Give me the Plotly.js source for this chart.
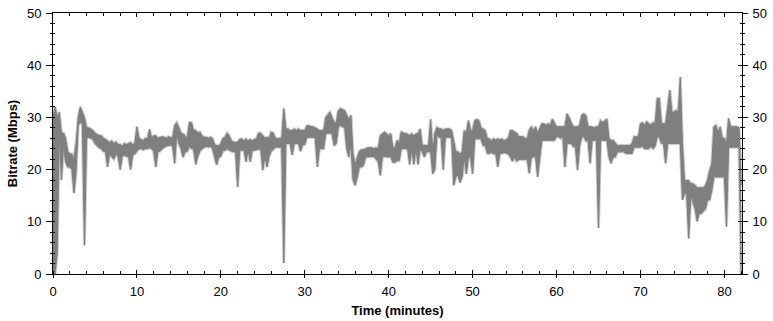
<!DOCTYPE html>
<html>
<head>
<meta charset="utf-8">
<script src="https://cdn.plot.ly/plotly-3.0.1.min.js"></script>
<style>html,body{margin:0;padding:0;background:#fff;}#chart{width:773px;height:321px;}</style>
</head>
<body>
<div id="chart"></div>
<script>
// Sampling: first bin at 0 min, one bin every 0.25 min
const startMinute = 0;
const stepMinutes = 0.25;

// Per-bin maximum bitrate (Mbps), one row per minute (4 bins)
const bitrateHigh = [
  30, 32, 30, 31,        // 0
  27, 27, 26, 23.5,      // 1
  23, 23, 22, 25,        // 2
  30, 32, 31, 30,        // 3
  28, 28, 27.8, 27.5,    // 4
  27, 26.8, 26.5, 26.5,  // 5
  26, 25.8, 25.5, 25.2,  // 6
  25.5, 25, 25.3, 24.8,  // 7
  24.8, 24.5, 25, 24.8,  // 8
  25, 25.2, 24.8, 25,    // 9
  28.2, 26, 25.8, 25.5,  // 10
  26, 25.8, 27.7, 26,    // 11
  26.5, 26.5, 26, 26.2,  // 12
  26.3, 26.2, 26, 26.3,  // 13
  26.2, 26, 28.5, 29,    // 14
  28, 27, 26.8, 26.5,    // 15
  26, 29, 29, 27.5,      // 16
  27.5, 27, 27.2, 26.5,  // 17
  26.2, 26.2, 26, 26.2,  // 18
  26, 24.8, 24.6, 24.5,  // 19
  25, 26, 26.2, 27,      // 20
  26.5, 25.5, 25.3, 25.2,// 21
  25.3, 25.8, 25.9, 25.5,// 22
  25.9, 25.5, 25.8, 25.5,// 23
  25.8, 25.9, 27, 27,    // 24
  26.5, 26, 26.2, 26,    // 25
  27.2, 27, 26, 25.9,    // 26
  26, 25.9, 31.7, 27.8,  // 27
  27.8, 27.5, 27.5, 27.8,// 28
  27.5, 27.8, 27.5, 27.5,// 29
  27.5, 28.4, 28.4, 28.2,// 30
  28.2, 28, 27.8, 27.5,  // 31
  27.5, 27.5, 30, 30.5,  // 32
  31, 30, 29, 29,        // 33
  31.3, 31.7, 31.5, 31.3,// 34
  30.5, 29.5, 30.4, 23,  // 35
  21, 22.5, 23.5, 23.8,  // 36
  23.8, 24, 24.2, 24.2,  // 37
  24.2, 24, 24.2, 24,    // 38
  26.5, 26.9, 27.2, 26.9,// 39
  26.5, 26.9, 24.2, 24.2,// 40
  25.6, 25, 27.2, 27,    // 41
  26.9, 26.8, 26.5, 26.9,// 42
  26.5, 26.8, 26.9, 27.8,// 43
  24.6, 24.6, 24.6, 24.6,// 44
  29.6, 23.5, 27, 28.1,  // 45
  27.8, 27.8, 27.5, 27.8,// 46
  27.8, 27.8, 27.5, 25,  // 47
  23.4, 23.4, 23, 23.4,  // 48
  27.5, 27, 29.4, 27.5,  // 49
  27.5, 29.4, 29.6, 29.4,// 50
  28, 27.8, 27.5, 25.9,  // 51
  25.9, 25.5, 25.9, 25.7,// 52
  25.9, 25.7, 25.9, 25.5,// 53
  25.8, 26, 27.5, 27.5,  // 54
  27.2, 27, 26.3, 26.3,  // 55
  26.3, 26, 25.8, 27.6,  // 56
  28.2, 27.5, 28.2, 27,  // 57
  28, 28.8, 28.8, 28.5,  // 58
  28.8, 28.5, 29.7, 29,  // 59
  28.2, 28.2, 28.2, 28.2,// 60
  28.2, 30.7, 30, 29,    // 61
  28.2, 28.2, 28.2, 28.5,// 62
  30.4, 30.7, 30.4, 28.2,// 63
  28.2, 28.2, 28, 28.2,  // 64
  28.2, 29.4, 29, 29.4,  // 65
  29.7, 26, 25.6, 25.6,  // 66
  25, 24.6, 24.6, 24.6,  // 67
  24.6, 24.6, 24.6, 24.6,// 68
  25, 26.3, 26.3, 26.3,  // 69
  28.8, 29, 28.5, 29.2,  // 70
  28.8, 28.5, 29, 28.8,  // 71
  33.6, 33.6, 28.8, 28.8,// 72
  28.8, 32, 35.2, 31,    // 73
  31, 31.4, 31, 37.7,    // 74
  25, 17.9, 17.9, 17.9,  // 75
  17.3, 17.3, 17, 16.5,  // 76
  16.5, 16.5, 16.5, 17,  // 77
  18, 19.9, 21, 28.2,    // 78
  28.5, 27, 28.2, 26,    // 79
  26, 25, 29.8, 28.2,    // 80
  28.2, 28.2, 28.2, 28,  // 81
  17                     // 82
];

// Per-bin minimum bitrate (Mbps), same bins
const bitrateLow = [
  0, 0, 4, 27,           // 0
  18, 24.5, 21.5, 20.5,  // 1
  20.5, 20, 15.5, 19.5,  // 2
  28.5, 29, 28.8, 5.5,   // 3
  26, 26.2, 26, 25.8,    // 4
  25, 24.5, 24.2, 24,    // 5
  23.5, 23.5, 20.5, 23,  // 6
  22.5, 22, 23, 22.5,    // 7
  20, 22.5, 22.8, 22.5,  // 8
  22.5, 20, 22.8, 23,    // 9
  23.5, 24, 24, 23.8,    // 10
  24, 24, 24.2, 24,      // 11
  23.5, 20.5, 23.5, 23.5,// 12
  24, 24.3, 24.5, 24.6,  // 13
  24.7, 24.5, 21.2, 26.9,// 14
  25, 24, 22.4, 23.4,    // 15
  23.5, 24.5, 24, 24,    // 16
  21, 22.5, 23.5, 24,    // 17
  24.3, 24.5, 24.3, 24.5,// 18
  24, 22.5, 20.9, 22.4,  // 19
  22.5, 23.7, 23.7, 24,  // 20
  23.7, 23.5, 23.4, 23.4,// 21
  16.7, 23.7, 23.7, 23.8,// 22
  21.5, 23.7, 21.5, 23.7,// 23
  23.7, 23.8, 23.8, 24,  // 24
  19.9, 22.5, 20.5, 22.5,// 25
  23.5, 24, 24.3, 24.3,  // 26
  24.3, 24.3, 2.1, 25,   // 27
  25, 25, 22.8, 25,      // 28
  25, 25, 23.5, 24.8,    // 29
  24.8, 26.2, 26.2, 26.2,// 30
  26.2, 26, 20.5, 24,    // 31
  24, 24, 26.9, 27,      // 32
  27, 26.9, 24.6, 25,    // 33
  28.1, 28.5, 28.2, 28.1,// 34
  24, 22.4, 25, 18,      // 35
  17, 18.5, 20.5, 20.5,  // 36
  20.8, 22.4, 22.4, 22.5,// 37
  22.4, 22.5, 22, 21.5,  // 38
  18.9, 22.4, 22.5, 22.4,// 39
  22.4, 22.5, 21.4, 21.4,// 40
  21.7, 21.7, 24, 24,    // 41
  24, 24, 21, 24,        // 42
  21, 24, 21, 24,        // 43
  23.4, 22.4, 23.4, 23.4,// 44
  23.4, 19.2, 20, 26.6,  // 45
  26.2, 26.2, 20, 26.2,  // 46
  26.2, 26.2, 26, 17,    // 47
  18.6, 19, 17.5, 18.6,  // 48
  22.4, 19.2, 22.4, 22.4,// 49
  19.2, 25.9, 25.9, 25.9,// 50
  25.9, 24.6, 24.6, 23.1,// 51
  23.1, 23.3, 23, 23.1,  // 52
  20.5, 23.1, 23.1, 23.3,// 53
  23.1, 23, 22.4, 21.6,  // 54
  22.4, 21.6, 21.9, 22,  // 55
  21.9, 22, 22, 19.3,    // 56
  22.4, 22.4, 22.5, 18.6,// 57
  22.4, 25.6, 25.6, 25.6,// 58
  25.6, 25.6, 25.6, 25.6,// 59
  26.3, 26.3, 26, 26.3,  // 60
  20.5, 25, 25, 25,      // 61
  24.4, 24.4, 19.9, 24.4,// 62
  26.3, 26.3, 25.5, 25.6,// 63
  21.2, 25.6, 25.6, 25.6,// 64
  8.8, 25.6, 25.6, 25.6, // 65
  25.6, 22.4, 21.2, 22.4,// 66
  22.4, 23.4, 23.4, 23.4,// 67
  23.4, 23.1, 23.1, 23.1,// 68
  23.1, 24.3, 24.3, 24.3,// 69
  24.3, 24.5, 24, 24,    // 70
  24, 24.5, 24, 24.5,    // 71
  26.3, 26.3, 25, 25,    // 72
  21.2, 25, 25, 25,      // 73
  25, 25, 25, 25,        // 74
  14.2, 15.4, 15.4, 6.8, // 75
  15, 13.5, 12.5, 10.1,  // 76
  11.6, 11.6, 12, 12.5,  // 77
  14.2, 14.2, 16, 18.6,  // 78
  18.6, 18.6, 18.6, 18.6,// 79
  18.6, 9.1, 24.3, 24.3, // 80
  24.3, 24.3, 24.3, 24.3,// 81
  0                      // 82
];

const xTitle = 'Time (minutes)';
const yTitle = 'Bitrate (Mbps)';

const black = '#000000';
const dataGray = '#7f7f7f';
const haloGray = '#cdcdcd';
const tickFont = {family: 'Liberation Sans, Arial, sans-serif', size: 13, color: '#000'};
const titleFont = {family: 'Liberation Sans, Arial, sans-serif', size: 13, color: '#000', weight: 'bold'};
const xRange = [0, 82.1];
const yRange = [0, 50];

const traces = [
  {type: 'scatter', mode: 'lines', x0: startMinute, dx: stepMinutes, y: bitrateLow,
   line: {color: haloGray, width: 3}, hoverinfo: 'skip', showlegend: false},
  {type: 'scatter', mode: 'lines', x0: startMinute, dx: stepMinutes, y: bitrateHigh,
   line: {color: haloGray, width: 3}, hoverinfo: 'skip', showlegend: false},
  {type: 'scatter', mode: 'lines', x0: startMinute, dx: stepMinutes, y: bitrateLow,
   line: {color: dataGray, width: 1}, showlegend: false},
  {type: 'scatter', mode: 'lines', x0: startMinute, dx: stepMinutes, y: bitrateHigh,
   line: {color: dataGray, width: 1}, fill: 'tonexty', fillcolor: dataGray, showlegend: false},
  {type: 'scatter', x: [], y: [], xaxis: 'x2', yaxis: 'y', showlegend: false},
  {type: 'scatter', x: [], y: [], xaxis: 'x3', yaxis: 'y', showlegend: false},
  {type: 'scatter', x: [], y: [], xaxis: 'x', yaxis: 'y2', showlegend: false},
  {type: 'scatter', x: [], y: [], xaxis: 'x', yaxis: 'y3', showlegend: false},
  {type: 'scatter', x: [], y: [], xaxis: 'x', yaxis: 'y4', showlegend: false}
];

const common = {showgrid: false, zeroline: false, fixedrange: true, tickcolor: black, linecolor: black, linewidth: 1};

const layout = {
  width: 773, height: 321,
  margin: {l: 53, r: 31, t: 13, b: 47},
  paper_bgcolor: '#fff', plot_bgcolor: '#fff',
  showlegend: false,
  xaxis: Object.assign({}, common, {
    range: xRange, side: 'bottom', anchor: 'y', showline: true,
    ticks: 'outside', ticklen: 3, dtick: 10, tick0: 0,
    minor: {ticks: 'inside', ticklen: 3, dtick: 2, tick0: 0, tickcolor: black},
    tickfont: tickFont, ticklabelstandoff: 2,
    title: {text: xTitle, font: titleFont, standoff: 8}
  }),
  xaxis2: Object.assign({}, common, {
    range: xRange, overlaying: 'x', side: 'bottom', anchor: 'y', showline: false,
    ticks: 'inside', ticklen: 4, dtick: 10, tick0: 0, showticklabels: false
  }),
  xaxis3: Object.assign({}, common, {
    range: xRange, overlaying: 'x', side: 'top', anchor: 'y', showline: true,
    ticks: 'inside', ticklen: 4, dtick: 10, tick0: 0, showticklabels: false,
    minor: {ticks: 'inside', ticklen: 3, dtick: 2, tick0: 0, tickcolor: black}
  }),
  yaxis: Object.assign({}, common, {
    range: yRange, side: 'left', anchor: 'x', showline: true,
    ticks: 'outside', ticklen: 6, dtick: 10, tick0: 0,
    minor: {ticks: 'outside', ticklen: 2, dtick: 2, tick0: 0, tickcolor: black},
    tickfont: tickFont, ticklabelstandoff: 2,
    title: {text: yTitle, font: titleFont, standoff: 6}
  }),
  yaxis2: Object.assign({}, common, {
    range: yRange, overlaying: 'y', side: 'right', anchor: 'x', showline: true,
    ticks: 'outside', ticklen: 5, dtick: 10, tick0: 0,
    minor: {ticks: 'outside', ticklen: 2, dtick: 2, tick0: 0, tickcolor: black},
    tickfont: tickFont, ticklabelstandoff: 2
  }),
  yaxis3: Object.assign({}, common, {
    range: yRange, overlaying: 'y', side: 'left', anchor: 'x', showline: false,
    ticks: 'inside', ticklen: 2, dtick: 10, tick0: 0, showticklabels: false,
    minor: {ticks: 'inside', ticklen: 2, dtick: 2, tick0: 0, tickcolor: black}
  }),
  yaxis4: Object.assign({}, common, {
    range: yRange, overlaying: 'y', side: 'right', anchor: 'x', showline: false,
    ticks: 'inside', ticklen: 4, dtick: 10, tick0: 0, showticklabels: false,
    minor: {ticks: 'inside', ticklen: 2, dtick: 2, tick0: 0, tickcolor: black}
  })
};

Plotly.newPlot('chart', traces, layout, {staticPlot: true, displayModeBar: false});
</script>
</body>
</html>
